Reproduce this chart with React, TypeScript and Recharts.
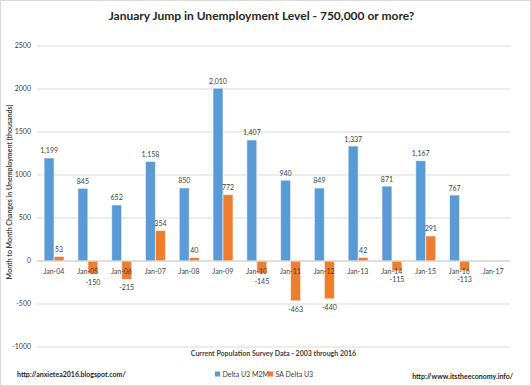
import React from "react";
import {
  BarChart,
  Bar,
  XAxis,
  YAxis,
  CartesianGrid,
  ReferenceLine,
  LabelList,
} from "recharts";

const categories = [
  "Jan-04", "Jan-05", "Jan-06", "Jan-07", "Jan-08", "Jan-09", "Jan-10",
  "Jan-11", "Jan-12", "Jan-13", "Jan-14", "Jan-15", "Jan-16", "Jan-17",
];
const deltaU3M2M = [1199, 845, 652, 1158, 850, 2010, 1407, 940, 849, 1337, 871, 1167, 767, null];
const saDeltaU3 = [53, -150, -215, 354, 40, 772, -145, -463, -440, 42, -115, 291, -113, null];
const yTicks = [-1000, -500, 0, 500, 1000, 1500, 2000, 2500];

const data = categories.map((name, i) => ({
  name,
  m2m: deltaU3M2M[i],
  sa: saDeltaU3[i],
}));

const W = 531;
const H = 386;
const X_AXIS_H = 20;
const MARGIN = { top: 46, right: 21, bottom: 39 - X_AXIS_H, left: 7 };
const Y_MIN = yTicks[0];
const Y_MAX = yTicks[yTicks.length - 1];
const FONT = "Lato, 'Open Sans', sans-serif";
const BLUE = "#5B9BD5";
const ORANGE = "#ED7D31";
const TEXT = "#404040";

// where the zero line sits, so the category labels hug it like Excel does
const plotTop = MARGIN.top;
const plotBottom = H - MARGIN.bottom - X_AXIS_H;
const zeroY = plotTop + ((plotBottom - plotTop) * Y_MAX) / (Y_MAX - Y_MIN);

const CategoryTick = (props: any) => {
  const { x, payload } = props;
  return (
    <text
      x={x}
      y={zeroY + 9.5}
      textAnchor="middle"
      dominantBaseline="central"
      fontSize={7}
      fontFamily={FONT}
      fill={TEXT}
    >
      {payload.value}
    </text>
  );
};

const ValueLabel = (props: any) => {
  const { x, y, width, height, value } = props;
  if (value === null || value === undefined) return null;
  const top = Math.min(y, y + height);
  const bottom = Math.max(y, y + height);
  const cy = value >= 0 ? top - 7.5 : bottom + 8;
  return (
    <text
      x={x + width / 2}
      y={cy}
      textAnchor="middle"
      dominantBaseline="central"
      fontSize={7}
      fontFamily={FONT}
      fill={TEXT}
    >
      {Number(value).toLocaleString("en-US")}
    </text>
  );
};

export default function App() {
  return (
    <div
      style={{
        position: "absolute",
        left: 0,
        top: 0,
        width: W,
        height: H,
        background: "#fff",
        border: "1px solid #d9d9d9",
        boxSizing: "border-box",
        fontFamily: FONT,
      }}
    >
      <div style={{ position: "absolute", left: -1, top: -1 }}>
        <BarChart
          width={W}
          height={H}
          data={data}
          margin={MARGIN}
          barCategoryGap="21%"
          barGap={0}
        >
          <CartesianGrid vertical={false} stroke="#d9d9d9" />
          <YAxis
            width={30}
            domain={[Y_MIN, Y_MAX]}
            ticks={yTicks}
            axisLine={false}
            tickLine={false}
            tickSize={0}
            tickMargin={6}
            tick={{ fontSize: 7, fill: TEXT, fontFamily: FONT }}
          />
          <XAxis
            dataKey="name"
            height={X_AXIS_H}
            axisLine={false}
            tickLine={false}
            interval={0}
            tick={<CategoryTick />}
          />
          <ReferenceLine y={0} stroke="#d0d0d0" />
          <Bar dataKey="m2m" fill={BLUE} stroke="#fff" strokeWidth={0.6} isAnimationActive={false}>
            <LabelList dataKey="m2m" content={<ValueLabel />} />
          </Bar>
          <Bar dataKey="sa" fill={ORANGE} stroke="#fff" strokeWidth={0.6} isAnimationActive={false}>
            <LabelList dataKey="sa" content={<ValueLabel />} />
          </Bar>
        </BarChart>
      </div>

      <svg
        width={W}
        height={H}
        style={{ position: "absolute", left: -1, top: -1, pointerEvents: "none" }}
        fontFamily={FONT}
      >
        <text x={261.5} y={15} textAnchor="middle" dominantBaseline="central" fontSize={12} fontWeight="bold" fill="#262626">
          January Jump in Unemployment Level - 750,000 or more?
        </text>
        <text
          x={9}
          y={192}
          transform="rotate(-90 9 192)"
          textAnchor="middle"
          dominantBaseline="central"
          fontSize={7}
          fontWeight="bold"
          fill={TEXT}
        >
          Month to Month Changes in Unemployment (thousands)
        </text>
        <text x={273.5} y={353} textAnchor="middle" dominantBaseline="central" fontSize={7} fontWeight="bold" fill={TEXT}>
          Current Population Survey Data - 2003 through 2016
        </text>

        <rect x={215} y={371.5} width={5} height={5} fill={BLUE} />
        <text x={222.5} y={374} dominantBaseline="central" fontSize={7} fill={TEXT}>
          Delta U3 M2M
        </text>
        <rect x={268} y={371.5} width={5} height={5} fill={ORANGE} />
        <text x={275.5} y={374} dominantBaseline="central" fontSize={7} fill={TEXT}>
          SA Delta U3
        </text>

        <text x={17} y={374} dominantBaseline="central" fontSize={7} fontWeight="bold" fill="#262626">
          http://anxietea2016.blogspot.com/
        </text>
        <text x={513} y={376} textAnchor="end" dominantBaseline="central" fontSize={7} fontWeight="bold" fill="#262626">
          http://www.itstheeconomy.info/
        </text>
      </svg>
    </div>
  );
}
